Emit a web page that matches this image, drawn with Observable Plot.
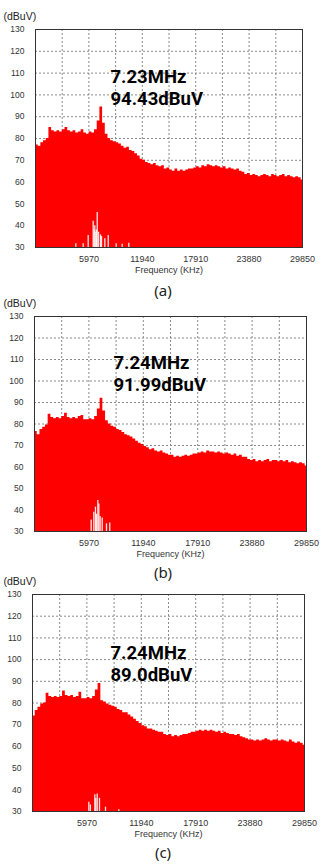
<!DOCTYPE html>
<html>
<head>
<meta charset="utf-8">
<script src="https://cdn.jsdelivr.net/npm/d3@7"></script>
<script src="https://cdn.jsdelivr.net/npm/@observablehq/plot@0.6"></script>
<style>
  html, body { margin: 0; padding: 0; background: #fff; }
  #root { position: relative; width: 330px; height: 868px; overflow: hidden; }
  .panel { position: absolute; left: 0; z-index: 1; }
  .cap { position: absolute; left: 0; width: 326px; text-align: center; font-family: "Noto Sans", "Open Sans", sans-serif; font-size: 15px; line-height: 20px; color: #222; z-index: 5; }
</style>
</head>
<body>
<div id="root"></div>
<script>
// ---- data ----
const freqs = [0,300,600,900,1200,1500,1800,2100,2400,2700,3000,3300,3600,3900,4200,4500,4800,5100,5400,5700,6000,6300,6600,6900,7200,7500,7800,8100,8400,8700,9000,9300,9600,9900,10200,10500,10800,11100,11400,11700,12000,12300,12600,12900,13200,13500,13800,14100,14400,14700,15000,15300,15600,15900,16200,16500,16800,17100,17400,17700,18000,18300,18600,18900,19200,19500,19800,20100,20400,20700,21000,21300,21600,21900,22200,22500,22800,23100,23400,23700,24000,24300,24600,24900,25200,25500,25800,26100,26400,26700,27000,27300,27600,27900,28200,28500,28800,29100,29400,29700,29850];

const levelA = [77,76.5,78,79,80,85,83.5,83,83.5,83,84,85,83.5,83,83.5,82.5,83,84,82.5,82,83,82.5,84,88,94.4,87,82,80,79,78.5,78,77.5,76.5,75.5,76,74.5,74,73,72,70.5,70,69,68.5,68,68.5,67.5,67,67.5,66,66.5,65.5,65,66,65,65.5,65,65.5,66,66,66.5,67,66.5,67.5,67,68,67.5,67,67.5,67,66.5,67,66,66.5,66,65.5,66,65,64.5,63.5,64,63,63.5,63,62.5,63,63.5,63,62.5,63.5,63,62.5,63,63.5,62.5,63,62.5,62,62.5,62,61,60.5];

const levelB = [76.5,75,77.5,78.5,79.5,84.5,83,82.5,83,82.5,83.5,85,83,82.5,83,82.5,83.5,84,82,82,82.5,82,83.5,87,92,86,81.5,80,79,78.5,77.5,77,76,75,74.5,74,73,72,71,70.5,69.5,69,68,68.5,67.5,67,67.5,66.5,66,65.5,65.5,64.5,65,64.5,65,65.5,65,65.5,66,66,66.5,67,66.5,67.5,67,67,66.5,67,66.5,66,66.5,66,65.5,66,65,65.5,64.5,64.5,63.5,63,63.5,62.5,63,62.5,63,63.5,62.5,63,63,62.5,63,62.5,63,62,62.5,62,61.5,62,61.5,60.5,60.5];

const levelC = [74,76.5,78,79.5,80,84.5,83,82.5,83,82.5,83,85.5,83.5,83,83.5,82.5,83,85,82,82,82.5,82,83,86,89,81,80.5,79.5,79,78.5,78,77,76.5,75.5,75.5,74.5,73.5,72.5,71.5,70.5,69.5,69,68,68,67.5,67,66.5,66.5,65.5,65,65.5,64.5,65,64.5,65,65.5,65.5,66,66.5,66.5,67,67.5,67,67.5,67,67.5,67,66.5,67,66,66.5,66,65.5,65.5,65,65.5,64.5,64,63.5,63,63,62.5,63,62.5,63,63.5,63,62.5,63,63,62.5,63,62.5,62,63,62,61.5,62,61.5,60.5,60.5];

// white gaps near the floor (frequency kHz, top dBuV)
const gapFreqA = [4510,5330,5890,6450,6550,6630,6750,6800,6900,7050,7270,7380,7750,8130,9020,9690,10430];
const gapTopA  = [31.7,31.7,35.5,42,38,40,37,38,46,37,35.8,35,34,35.5,31.7,31.5,32];
const gapFreqB = [6220,6510,6690,6800,6950,7060,7200,7430,7900,8260];
const gapTopB  = [35.4,39,41.3,38,44.4,42.8,37,36.3,33.6,33.9];
const gapFreqC = [6180,6350,6840,6950,7100,7350,8010,9470];
const gapTopC  = [34.3,33,37.7,36,38.1,36.1,32,30.8];

const xTicks = [5970,11940,17910,23880,29850];
const xGrid = [2985,5970,8955,11940,14925,17910,20895,23880,26865];
const yTicks = [30,40,50,60,70,80,90,100,110,120,130];
const peakLabels = ["7.23MHz\n94.43dBuV","7.24MHz\n91.99dBuV","7.24MHz\n89.0dBuV"];
const captions = ["(a)","(b)","(c)"];

// ---- layout ----
const panels = [
  {top: 0,   mt: 29, ph: 218, ml: 35, mr: 28, lv: levelA, gf: gapFreqA, gt: gapTopA, adx: 75, ady: 47, cap: 290},
  {top: 290, mt: 26, ph: 215, ml: 34, mr: 24, lv: levelB, gf: gapFreqB, gt: gapTopB, adx: 79, ady: 46, cap: 572},
  {top: 575, mt: 19, ph: 217, ml: 32, mr: 26, lv: levelC, gf: gapFreqC, gt: gapTopC, adx: 78, ady: 58, cap: 852}
];

const root = document.getElementById("root");
const mb = 35;
const tickFont = "'Liberation Sans', Arial, sans-serif";

panels.forEach((p, i) => {
  const rows = freqs.map((f, k) => ({f, v: p.lv[k]}));
  const gaps = p.gf.map((f, k) => ({f, v: p.gt[k]}));
  const chart = Plot.plot({
    width: 330,
    height: p.mt + p.ph + mb,
    marginTop: p.mt, marginBottom: mb, marginLeft: p.ml, marginRight: p.mr,
    x: {domain: [0, 29850]},
    y: {domain: [30, 130]},
    style: {background: "transparent", fontFamily: tickFont, overflow: "visible"},
    marks: [
      Plot.ruleX(xGrid, {stroke: "#8a8a8a", strokeDasharray: "2,2", strokeWidth: 1}),
      Plot.ruleY(yTicks.slice(1, -1), {stroke: "#8a8a8a", strokeDasharray: "2,2", strokeWidth: 1}),
      Plot.areaY(rows, {x: "f", y1: 30, y2: "v", curve: "step-after", fill: "#ff0000"}),
      Plot.ruleX(gaps, {x: "f", y1: 30, y2: "v", stroke: "white", strokeWidth: 1.3, strokeOpacity: 0.9}),
      Plot.frame({stroke: "#333", strokeWidth: 1}),
      Plot.axisX(xTicks, {tickSize: 0, tickPadding: 8, label: null, tickFormat: d => String(d), fontSize: 9, fill: "#333", fontFamily: tickFont}),
      Plot.axisY(yTicks, {tickSize: 0, tickPadding: 11, label: null, tickFormat: d => String(d), fontSize: 8.5, fill: "#333", fontFamily: "'Liberation Sans Narrow', 'Liberation Sans', Arial, sans-serif"}),
      Plot.text(["(dBuV)"], {frameAnchor: "top-left", dx: 3 - p.ml, dy: -13, textAnchor: "start", lineAnchor: "middle", fontSize: 10.5, fill: "#222"}),
      Plot.text(["Frequency (KHz)"], {frameAnchor: "bottom", dy: 23, lineAnchor: "middle", fontSize: 9, fill: "#333"}),
      Plot.text([peakLabels[i]], {frameAnchor: "top-left", dx: p.adx, dy: p.ady - 9, textAnchor: "start", lineAnchor: "top", lineHeight: 1.2, fontSize: 18.5, fontWeight: 700, fontFamily: "Roboto, 'Liberation Sans', sans-serif", fill: "#000"})
    ]
  });
  const wrap = document.createElement("div");
  wrap.className = "panel";
  wrap.style.top = p.top + "px";
  wrap.appendChild(chart);
  root.appendChild(wrap);
  const cap = document.createElement("div");
  cap.className = "cap";
  cap.style.top = (p.cap - 10) + "px";
  cap.textContent = captions[i];
  root.appendChild(cap);
});
</script>
</body>
</html>
